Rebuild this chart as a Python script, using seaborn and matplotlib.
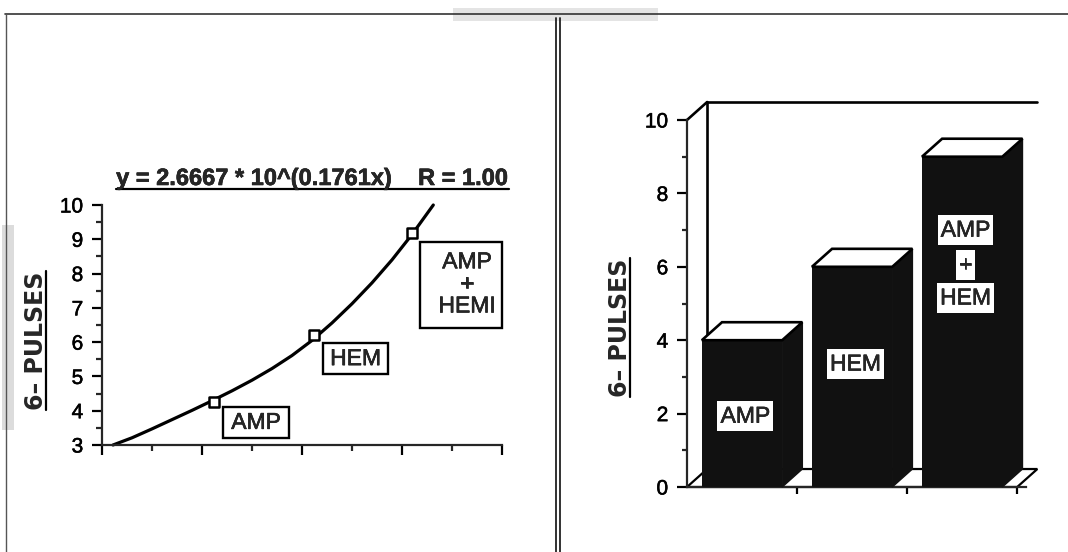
import numpy as np
import pandas as pd
import matplotlib
matplotlib.use("Agg")
import matplotlib.pyplot as plt
from matplotlib.patches import Polygon, Rectangle
from matplotlib.lines import Line2D
import matplotlib.patheffects as pe
import seaborn as sns

# ---------------- data ----------------
# left panel: fitted curve (read from picture) and the three measured points
curve_x = [0.11, 0.3, 0.5, 0.7, 0.9, 1.1, 1.3, 1.5, 1.7, 1.9, 2.1, 2.3, 2.5,
           2.7, 2.9, 3.1, 3.313]
curve_y = [3.00, 3.21, 3.47, 3.74, 4.01, 4.29, 4.58, 4.89, 5.23, 5.61, 6.05,
           6.56, 7.12, 7.73, 8.40, 9.14, 10.0]
point_x = [1.12, 2.12, 3.10]
point_y = [4.25, 6.20, 9.18]
point_labels = ["AMP", "HEM", "AMP\n+\nHEMI"]
fit_title = "y = 2.6667 * 10^(0.1761x)    R = 1.00"
y_label = "6– PULSES"

# right panel: bars
bar_categories = ["AMP", "HEM", "AMP + HEM"]
bar_values = [4.0, 6.0, 9.0]
bar_label_lines = [["AMP"], ["HEM"], ["AMP", "+", "HEM"]]

# ---------------- style ----------------
sns.set_style("ticks")
plt.rcParams["font.family"] = ["Liberation Sans", "DejaVu Sans"]
plt.rcParams["axes.linewidth"] = 1.6

W, H = 1068, 552
fig = plt.figure(figsize=(W / 100, H / 100), dpi=100)
fig.patch.set_facecolor("white")
heavy = [pe.withStroke(linewidth=0.4, foreground="black")]


def fx(px):
    return px / W


def fy(py):
    return 1 - py / H


# ---------------- page decorations (scan frame) ----------------
fig.add_artist(Rectangle((fx(453), fy(21)), fx(658) - fx(453), fy(8) - fy(21),
                         transform=fig.transFigure, facecolor="#e4e4e4", edgecolor="none"))
fig.add_artist(Rectangle((fx(2), fy(430)), fx(14) - fx(2), fy(225) - fy(430),
                         transform=fig.transFigure, facecolor="#dcdcdc", edgecolor="none"))
fig.add_artist(Line2D([fx(5), fx(1068)], [fy(14), fy(14)], transform=fig.transFigure,
                      color="#333333", lw=1.2))
fig.add_artist(Line2D([fx(6), fx(6)], [fy(14), fy(552)], transform=fig.transFigure,
                      color="#555555", lw=1.0))
for xx in (555.5, 560):
    fig.add_artist(Line2D([fx(xx), fx(xx)], [fy(18), fy(552)], transform=fig.transFigure,
                          color="#222222", lw=1.3))

tick_font = 15
box_font = 16.5

# ---------------- left panel ----------------
axL = fig.add_axes([fx(102), fy(445), fx(502) - fx(102), fy(205) - fy(445)])
sns.lineplot(x=curve_x, y=curve_y, sort=False, estimator=None, color="black",
             lw=2.3, ax=axL)
for ln in axL.lines:
    ln.set_clip_on(False)
    ln.set_solid_capstyle("round")
    ln.set_solid_joinstyle("round")
sns.scatterplot(x=point_x, y=point_y, marker="s", s=52, facecolor="white",
                edgecolor="black", linewidth=1.8, ax=axL, zorder=4, clip_on=False)
axL.set_xlim(0, 4)
axL.set_ylim(3, 10)
axL.set_xticks(range(5))
axL.set_xticklabels([])
axL.set_xticks(np.arange(0.5, 4, 1), minor=True)
axL.set_yticks(range(3, 11))
axL.set_yticks(np.arange(3.5, 10, 1), minor=True)
axL.tick_params(which="major", length=7.5, width=1.6, direction="out",
                labelsize=tick_font, pad=6, colors="black")
axL.tick_params(which="minor", length=4, width=1.6, direction="out")
sns.despine(ax=axL)

# label boxes (layout positions in data units)
left_boxes = [
    dict(x0=1.21, x1=1.87, y0=3.20, y1=4.11, tx=1.54, ty=3.66),
    dict(x0=2.21, x1=2.86, y0=5.07, y1=5.97, tx=2.535, ty=5.52),
    dict(x0=3.18, x1=4.00, y0=6.41, y1=8.92, tx=3.65, ty=7.70),
]
for lab, b in zip(point_labels, left_boxes):
    axL.add_patch(Rectangle((b["x0"], b["y0"]), b["x1"] - b["x0"], b["y1"] - b["y0"],
                            facecolor="white", edgecolor="black", lw=1.7, zorder=3,
                            clip_on=False))
    axL.text(b["tx"], b["ty"], lab, ha="center", va="center", fontsize=box_font,
             linespacing=0.95, zorder=5, path_effects=heavy)

title_txt = fig.text(fx(312.5), fy(185), fit_title, ha="center", va="baseline",
                     fontsize=17, fontweight="bold", path_effects=heavy)
ylabL = fig.text(fx(36), fy(340.5), y_label, rotation=90, ha="center", va="center",
                 fontsize=17, fontweight="bold", family=["DejaVu Sans"])

# ---------------- right panel ----------------
axR = fig.add_axes([fx(687), fy(487), fx(1026) - fx(687), fy(120) - fy(487)])
df = pd.DataFrame({"category": bar_categories, "value": bar_values})
sns.barplot(data=df, x="category", y="value", color="black", saturation=1,
            width=0.73, linewidth=0, ax=axR, zorder=3)
axR.set_xlim(-0.5, 2.58)
axR.set_ylim(0, 10)
dx, dy = 0.183, 0.49

# floor and back wall
axR.add_patch(Polygon([(-0.5, 0), (2.5, 0), (2.5 + dx, dy), (-0.5 + dx, dy)],
                      closed=True, facecolor="white", edgecolor="black", lw=1.6,
                      zorder=1, clip_on=False))
axR.add_line(Line2D([-0.5 + dx, -0.5 + dx], [dy, 10 + dy], color="black", lw=1.9,
                    zorder=1, clip_on=False))
axR.add_line(Line2D([-0.5 + dx, 2.5 + dx], [10 + dy, 10 + dy], color="black", lw=1.9,
                    zorder=1, clip_on=False))
axR.add_line(Line2D([-0.5, -0.5 + dx], [10, 10 + dy], color="black", lw=1.9,
                    zorder=1, clip_on=False))

for p in list(axR.patches):
    if not isinstance(p, Rectangle):
        continue
    x0, w, h = p.get_x(), p.get_width(), p.get_height()
    if h <= 0:
        continue
    x1 = x0 + w
    axR.add_patch(Polygon([(x1, 0), (x1 + dx, dy), (x1 + dx, h + dy), (x1, h)],
                          closed=True, facecolor="#111111", edgecolor="#111111",
                          lw=1.0, zorder=3, clip_on=False))
    axR.add_patch(Polygon([(x0, h), (x1, h), (x1 + dx, h + dy), (x0 + dx, h + dy)],
                          closed=True, facecolor="white", edgecolor="black",
                          lw=1.9, zorder=4, clip_on=False, joinstyle="miter"))
    p.set_facecolor("#111111")

# labels on bars (layout y positions in data units)
label_y = [[1.93], [3.35], [7.0, 6.05, 5.15]]
for i, (lines, ys) in enumerate(zip(bar_label_lines, label_y)):
    for t, yy in zip(lines, ys):
        axR.text(i + 0.03, yy, t, ha="center", va="center", fontsize=box_font,
                 zorder=6, path_effects=heavy,
                 bbox=dict(boxstyle="square,pad=0.14", facecolor="white",
                           edgecolor="none"))

axR.set_xticks([0.5, 1.5, 2.5])
axR.set_xticklabels([])
axR.set_yticks(range(0, 11, 2))
axR.set_yticks(range(1, 10, 2), minor=True)
axR.set_xlabel("")
axR.set_ylabel("")
axR.tick_params(which="major", length=7.5, width=1.6, direction="out",
                labelsize=tick_font, pad=6, colors="black")
axR.tick_params(axis="x", which="major", length=5)
axR.tick_params(which="minor", length=3.5, width=1.6, direction="out")
sns.despine(ax=axR)

for ax in (axL, axR):
    for lbl in ax.get_yticklabels():
        lbl.set_path_effects(heavy)

ylabR = fig.text(fx(620), fy(327.5), y_label, rotation=90, ha="center", va="center",
                 fontsize=17, fontweight="bold", family=["DejaVu Sans"])

# ---------------- underlines ----------------
fig.canvas.draw()
r = fig.canvas.get_renderer()
bb = title_txt.get_window_extent(r)
yb = fy(188.5)
fig.add_artist(Line2D([bb.x0 / W, bb.x1 / W], [yb, yb], transform=fig.transFigure,
                      color="black", lw=1.6))
for t in (ylabL, ylabR):
    bb = t.get_window_extent(r)
    xu = (bb.x1 - 2) / W
    fig.add_artist(Line2D([xu, xu], [bb.y0 / H, bb.y1 / H], transform=fig.transFigure,
                          color="black", lw=1.6))

fig.savefig("out.png", dpi=100, facecolor="white")
